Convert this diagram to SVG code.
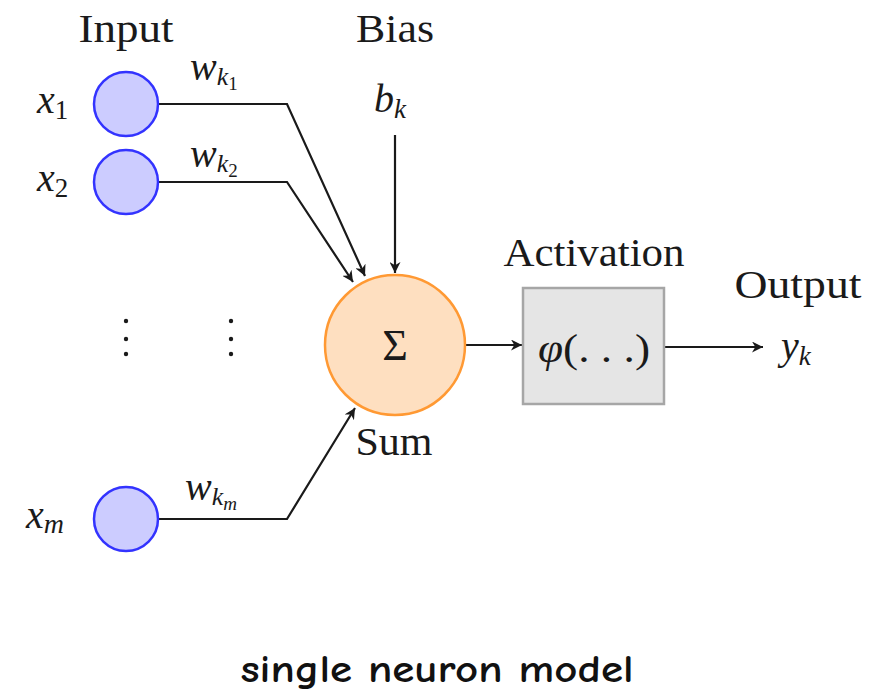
<svg xmlns="http://www.w3.org/2000/svg" width="879" height="697" viewBox="0 0 879 697">
<style>
.t{font-family:"Liberation Serif","DejaVu Serif",serif;fill:#1a1a1a}
.m{font-family:"Liberation Serif","DejaVu Serif",serif;font-style:italic;fill:#1a1a1a}
.c{fill:none;stroke:#1a1a1a;stroke-width:2.2}
.in{fill:#ccccff;stroke:#3333ff;stroke-width:2.5}
.dot{fill:#1a1a1a}
</style>
<defs>
<marker id="ah" viewBox="0 0 10 10" refX="10" refY="5" markerWidth="11" markerHeight="11" markerUnits="userSpaceOnUse" orient="auto">
<path d="M0,0 L10,5 L0,10 L3,5 Z" fill="#1a1a1a"/>
</marker>
</defs>
<rect width="879" height="697" fill="#fff"/>
<text class="t" x="126" y="42" font-size="40" text-anchor="middle" textLength="95" lengthAdjust="spacingAndGlyphs">Input</text>
<text class="t" x="395" y="42" font-size="40" text-anchor="middle" textLength="78" lengthAdjust="spacingAndGlyphs">Bias</text>
<g id="connectors">
<polyline class="c" points="158,104 287,104 365,276" marker-end="url(#ah)"/>
<polyline class="c" points="158,182 287,182 353,282" marker-end="url(#ah)"/>
<polyline class="c" points="158,519 287,519 355,408" marker-end="url(#ah)"/>
<line class="c" x1="395" y1="135" x2="395" y2="273" marker-end="url(#ah)"/>
<line class="c" x1="465" y1="345" x2="522" y2="345" marker-end="url(#ah)"/>
<line class="c" x1="664" y1="347" x2="763" y2="347" marker-end="url(#ah)"/>
</g>
<g id="x1">
<circle class="in" cx="126" cy="104" r="32"/>
<text class="m" x="37" y="113" font-size="40">x<tspan font-size="27" dy="6" font-style="normal">1</tspan></text>
</g>
<g id="x2">
<circle class="in" cx="126" cy="182" r="32"/>
<text class="m" x="37" y="191" font-size="40">x<tspan font-size="27" dy="6" font-style="normal">2</tspan></text>
</g>
<g id="xm">
<circle class="in" cx="126" cy="519" r="32"/>
<text class="m" x="26" y="528" font-size="40">x<tspan font-size="28" dy="5">m</tspan></text>
</g>
<text class="m" x="190" y="80" font-size="40">w<tspan font-size="26" dy="5">k</tspan><tspan font-size="19" dy="5" font-style="normal">1</tspan></text>
<text class="m" x="190" y="167" font-size="40">w<tspan font-size="26" dy="5">k</tspan><tspan font-size="19" dy="5" font-style="normal">2</tspan></text>
<text class="m" x="185" y="500" font-size="40">w<tspan font-size="26" dy="5">k</tspan><tspan font-size="19" dy="5">m</tspan></text>
<text class="m" x="374" y="112" font-size="40">b<tspan font-size="27" dy="6">k</tspan></text>
<g id="dots">
<circle class="dot" cx="126" cy="321" r="2.2"/><circle class="dot" cx="126" cy="339" r="2.2"/><circle class="dot" cx="126" cy="354" r="2.2"/>
<circle class="dot" cx="231" cy="321" r="2.2"/><circle class="dot" cx="231" cy="339" r="2.2"/><circle class="dot" cx="231" cy="354" r="2.2"/>
</g>
<g id="sum">
<circle cx="395" cy="345" r="70" fill="#fedfc0" stroke="#ff9933" stroke-width="2.5"/>
<text class="t" x="395" y="360" font-size="44" text-anchor="middle">Σ</text>
<text class="t" x="394" y="455" font-size="40" text-anchor="middle" textLength="77" lengthAdjust="spacingAndGlyphs">Sum</text>
</g>
<g id="activation">
<text class="t" x="594" y="266" font-size="40" text-anchor="middle" textLength="181" lengthAdjust="spacingAndGlyphs">Activation</text>
<rect x="523" y="288" width="141" height="116" fill="#e5e5e5" stroke="#a6a6a6" stroke-width="2.5"/>
<text class="t" x="594" y="362" font-size="40" text-anchor="middle" textLength="112" lengthAdjust="spacingAndGlyphs"><tspan font-style="italic">φ</tspan>(. . .)</text>
</g>
<g id="output">
<text class="t" x="798" y="298" font-size="40" text-anchor="middle" textLength="127" lengthAdjust="spacingAndGlyphs">Output</text>
<text class="m" x="781" y="359" font-size="40">y<tspan font-size="27" dy="6">k</tspan></text>
</g>
<text x="437" y="682" font-family="'Comic Sans MS','Comic Neue','DejaVu Sans',sans-serif" font-size="38" font-weight="bold" text-anchor="middle" textLength="393" lengthAdjust="spacingAndGlyphs" fill="#111">single neuron model</text>
</svg>
